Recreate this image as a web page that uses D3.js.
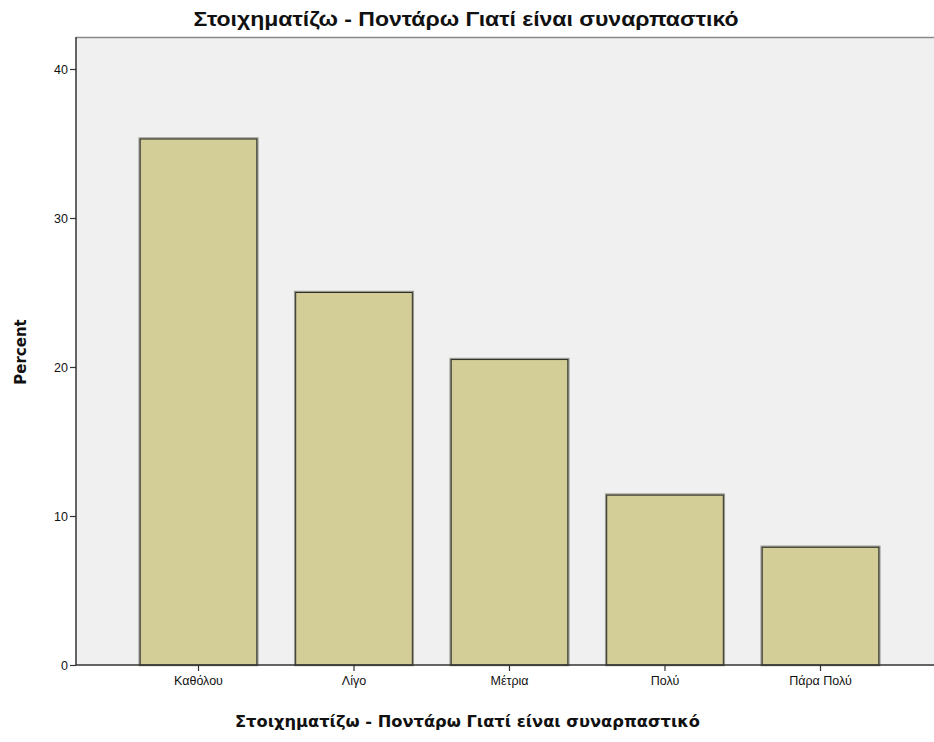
<!DOCTYPE html>
<html>
<head>
<meta charset="utf-8">
<script src="https://cdn.jsdelivr.net/npm/d3@7"></script>
<style>
  html, body { margin: 0; padding: 0; background: #ffffff; }
  svg { display: block; }
</style>
</head>
<body>
<svg id="chart" width="934" height="742"></svg>
<script>
// Response categories and their share of respondents (%)
const categories = ["Καθόλου", "Λίγο", "Μέτρια", "Πολύ", "Πάρα Πολύ"];
const percents = [35.3, 25.0, 20.5, 11.4, 7.9];
const yTicks = [0, 10, 20, 30, 40];
const chartTitle = "Στοιχηματίζω - Ποντάρω Γιατί είναι συναρπαστικό";
const xTitle = "Στοιχηματίζω - Ποντάρω Γιατί είναι συναρπαστικό";
const yTitle = "Percent";

const svg = d3.select("#chart");
const plot = { left: 76, right: 934, top: 37, bottom: 665 };

const y = d3.scaleLinear().domain([0, 40]).range([plot.bottom, 69]);
const x = d3.scaleBand()
  .domain(categories)
  .range([120.75, 898.25])
  .paddingInner(0.25)
  .paddingOuter(0.125);

// plot background
svg.append("rect")
  .attr("x", plot.left).attr("y", plot.top)
  .attr("width", plot.right - plot.left).attr("height", plot.bottom - plot.top)
  .attr("fill", "#f0f0f0");

// top frame line
svg.append("line")
  .attr("x1", plot.left).attr("x2", plot.right)
  .attr("y1", plot.top + 0.5).attr("y2", plot.top + 0.5)
  .attr("stroke", "#8a8a8a").attr("stroke-width", 1.5);

// bars with a soft shadowed outline
const bars = svg.append("g");
bars.selectAll("rect.shadow")
  .data(percents)
  .join("rect")
  .attr("class", "shadow")
  .attr("x", (d, i) => x(categories[i]) - 0.5)
  .attr("y", d => y(d) - 0.5)
  .attr("width", x.bandwidth() + 1)
  .attr("height", d => y(0) - y(d) + 0.5)
  .attr("fill", "none")
  .attr("stroke", "#9a9a90")
  .attr("stroke-width", 2.5);
bars.selectAll("rect.bar")
  .data(percents)
  .join("rect")
  .attr("class", "bar")
  .attr("x", (d, i) => x(categories[i]))
  .attr("y", d => y(d))
  .attr("width", x.bandwidth())
  .attr("height", d => y(0) - y(d))
  .attr("fill", "#d3ce97")
  .attr("stroke", "#2e2e2a")
  .attr("stroke-width", 1);

// y axis
const yAxis = d3.axisLeft(y).tickValues(yTicks).tickSize(6).tickPadding(2);
const gy = svg.append("g")
  .attr("transform", `translate(${plot.left},0)`)
  .call(yAxis);
gy.select(".domain").attr("d", `M0,${plot.top}V${plot.bottom}`).attr("stroke", "#333").attr("stroke-width", 1.5);
gy.selectAll(".tick line").attr("stroke", "#333").attr("stroke-width", 1.2);
gy.selectAll(".tick text")
  .attr("font-family", "Liberation Sans, Arial, sans-serif")
  .attr("font-size", 12.5).attr("fill", "#111");

// x axis
const xAxis = d3.axisBottom(x).tickSize(6).tickPadding(5).tickSizeOuter(0);
const gx = svg.append("g")
  .attr("transform", `translate(0,${plot.bottom})`)
  .call(xAxis);
gx.select(".domain").attr("d", `M${plot.left},0H${plot.right}`).attr("stroke", "#333").attr("stroke-width", 1.5);
gx.selectAll(".tick line").attr("stroke", "#333").attr("stroke-width", 1.2);
gx.selectAll(".tick text")
  .attr("font-family", "Liberation Sans, Arial, sans-serif")
  .attr("font-size", 12.5).attr("fill", "#111");

// titles
svg.append("text")
  .attr("x", 466).attr("y", 26)
  .attr("text-anchor", "middle")
  .attr("font-family", "Liberation Sans, Arial, sans-serif")
  .attr("font-weight", "bold").attr("font-size", 20)
  .attr("textLength", 545).attr("lengthAdjust", "spacingAndGlyphs")
  .attr("fill", "#111")
  .text(chartTitle);

svg.append("text")
  .attr("x", 467.5).attr("y", 727)
  .attr("text-anchor", "middle")
  .attr("font-family", "DejaVu Sans, Verdana, sans-serif")
  .attr("font-weight", "bold").attr("font-size", 15.5)
  .attr("textLength", 465).attr("lengthAdjust", "spacingAndGlyphs")
  .attr("fill", "#111")
  .text(xTitle);

svg.append("text")
  .attr("transform", "translate(26,352) rotate(-90)")
  .attr("text-anchor", "middle")
  .attr("font-family", "DejaVu Sans, Verdana, sans-serif")
  .attr("font-weight", "bold").attr("font-size", 15)
  .attr("fill", "#111")
  .text(yTitle);
</script>
</body>
</html>
